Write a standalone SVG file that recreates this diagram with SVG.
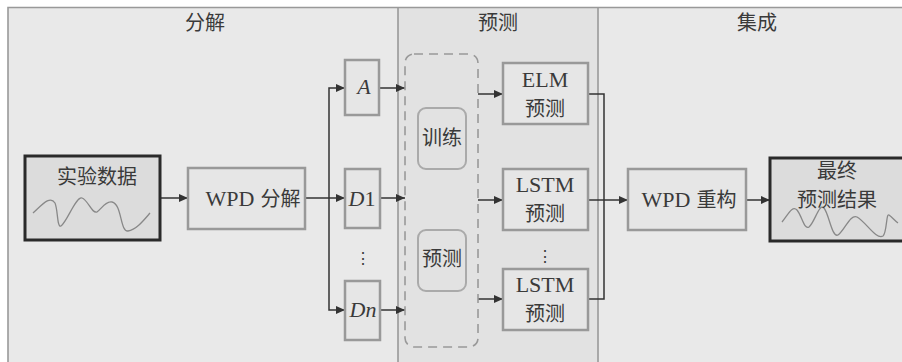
<svg xmlns="http://www.w3.org/2000/svg" width="902" height="362" viewBox="0 0 902 362">
<style>
.cjk{font-family:"Noto Sans CJK SC","Liberation Serif",sans-serif;font-size:20px;fill:#3a3a3a;text-anchor:middle}
.lat{font-family:"Liberation Serif",serif;font-size:22px;fill:#3a3a3a;text-anchor:middle}
.mi{font-family:"Liberation Serif",serif;font-style:italic}
.box{fill:#e6e6e6;stroke:#999;stroke-width:2.5}
.thick{fill:#dcdcdc;stroke:#2a2a2a;stroke-width:3}
.rbox{fill:none;stroke:#aaa;stroke-width:2}
.conn{fill:none;stroke:#333;stroke-width:1.5}
.wave{fill:none;stroke:#888;stroke-width:1.3}
</style>
<defs>
<marker id="ah" markerWidth="10" markerHeight="10" refX="9" refY="5" orient="auto" markerUnits="userSpaceOnUse">
<path d="M0,1 L9,5 L0,9 Z" fill="#333"/>
</marker>
</defs>
<rect width="902" height="362" fill="#fff"/>
<g id="panels">
<rect x="8" y="7" width="390" height="360" fill="#e9e9e9"/>
<rect x="398" y="7" width="200" height="360" fill="#e2e2e2"/>
<rect x="598" y="7" width="310" height="360" fill="#e9e9e9"/>
<path d="M8,366 V7.5 H902 M398,7.5 V366 M598,7.5 V366" fill="none" stroke="#999" stroke-width="1.6"/>
<text class="cjk" x="205" y="30">分解</text>
<text class="cjk" x="498" y="30">预测</text>
<text class="cjk" x="757" y="30">集成</text>
</g>
<g id="connectors">
<path class="conn" d="M160,198 H188" marker-end="url(#ah)"/>
<path class="conn" d="M305,198 H345" marker-end="url(#ah)"/>
<path class="conn" d="M329,198 V88 H345" marker-end="url(#ah)"/>
<path class="conn" d="M329,198 V310 H345" marker-end="url(#ah)"/>
<path class="conn" d="M380,88 H405" marker-end="url(#ah)"/>
<path class="conn" d="M380,198 H405" marker-end="url(#ah)"/>
<path class="conn" d="M380,310 H405" marker-end="url(#ah)"/>
<path class="conn" d="M478,94 H503" marker-end="url(#ah)"/>
<path class="conn" d="M478,200 H503" marker-end="url(#ah)"/>
<path class="conn" d="M478,299 H503" marker-end="url(#ah)"/>
<path class="conn" d="M588,94 H604 V299 H588"/>
<path class="conn" d="M588,200 H628" marker-end="url(#ah)"/>
<path class="conn" d="M746,200 H770" marker-end="url(#ah)"/>
</g>
<g id="data">
<rect class="thick" x="25" y="156" width="135" height="84"/>
<text class="cjk" x="97" y="184">实验数据</text>
<path class="wave" d="M33,213 C42,205 50,195 55,203 C58,210 57,228 61,226 C67,222 76,196 82,198 C88,200 92,214 97,212 C102,208 106,201 112,202 C122,204 120,232 128,231 C136,230 144,220 150,213"/>
</g>
<g id="wpd-decomp">
<rect class="box" x="188" y="168" width="117" height="61"/>
<text class="lat" x="253" y="206"><tspan>WPD</tspan><tspan class="cjk" dx="6">分解</tspan></text>
</g>
<g id="A">
<rect class="box" x="345" y="60" width="34" height="55"/>
<text class="lat mi" x="364" y="94">A</text>
</g>
<g id="D1">
<rect class="box" x="345" y="169" width="35" height="59"/>
<text class="lat" x="362" y="206"><tspan class="mi">D</tspan>1</text>
</g>
<text class="lat" x="363" y="264" style="font-size:16px">⋮</text>
<g id="Dn">
<rect class="box" x="345" y="281" width="35" height="59"/>
<text class="lat" x="363" y="317"><tspan class="mi">Dn</tspan></text>
</g>
<g id="model-group">
<rect x="405" y="54" width="73" height="293" rx="9" fill="none" stroke="#999" stroke-width="1.6" stroke-dasharray="9,6"/>
</g>
<g id="train">
<rect class="rbox" x="418" y="108" width="48" height="61" rx="8"/>
<text class="cjk" x="442" y="145">训练</text>
</g>
<g id="predict">
<rect class="rbox" x="418" y="230" width="48" height="61" rx="8"/>
<text class="cjk" x="442" y="266">预测</text>
</g>
<g id="elm">
<rect class="box" x="503" y="63" width="85" height="61"/>
<text class="lat" x="545" y="87">ELM</text>
<text class="cjk" x="545" y="116">预测</text>
</g>
<g id="lstm1">
<rect class="box" x="503" y="169" width="85" height="61"/>
<text class="lat" x="545" y="192">LSTM</text>
<text class="cjk" x="545" y="221">预测</text>
</g>
<text class="lat" x="545" y="262" style="font-size:16px">⋮</text>
<g id="lstm2">
<rect class="box" x="503" y="269" width="85" height="61"/>
<text class="lat" x="545" y="292">LSTM</text>
<text class="cjk" x="545" y="321">预测</text>
</g>
<g id="wpd-recon">
<rect class="box" x="628" y="169" width="118" height="61"/>
<text class="lat" x="689" y="207"><tspan>WPD</tspan><tspan class="cjk" dx="6">重构</tspan></text>
</g>
<g id="result">
<rect class="thick" x="770" y="158" width="140" height="83"/>
<path class="wave" d="M782,222 C788,215 792,205 797,210 C802,216 804,230 809,227 C815,222 819,203 824,208 C829,214 832,238 838,235 C845,230 850,214 857,217 C866,222 876,240 883,236 C887,233 886,213 889,215 C892,217 895,221 898,223"/>
<text class="cjk" x="837" y="178">最终</text>
<text class="cjk" x="837" y="207">预测结果</text>
</g>
</svg>
